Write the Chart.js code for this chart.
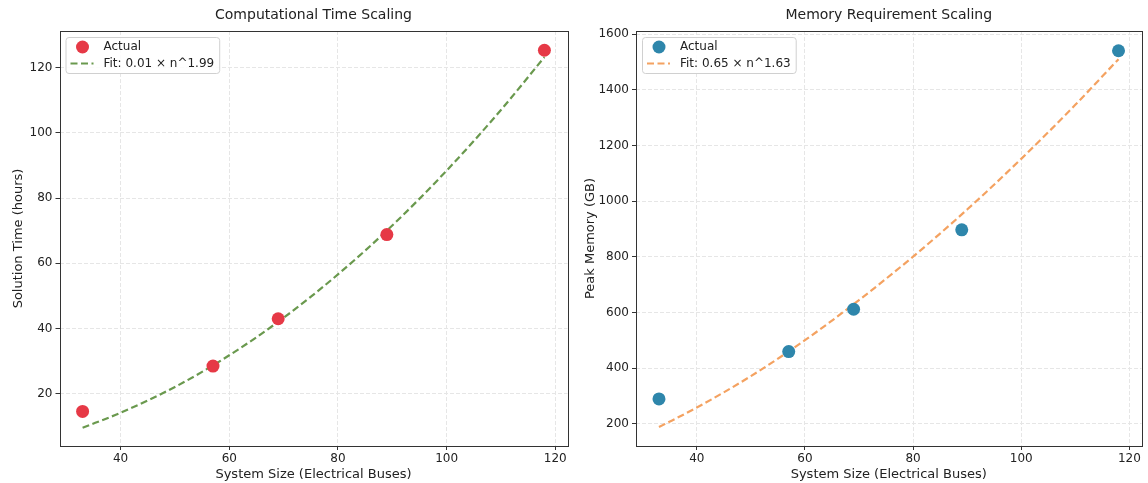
<!DOCTYPE html>
<html>
<head>
<meta charset="utf-8">
<script src="https://cdn.jsdelivr.net/npm/chart.js@4/dist/chart.umd.min.js"></script>
<style>
  html, body { margin: 0; padding: 0; background: #fff; }
  .panel { position: absolute; top: 0; width: 574px; height: 483px; }
  #left { left: 0; }
  #right { left: 574px; }
</style>
</head>
<body>
<div class="panel" id="left"><canvas id="time-chart" width="574" height="483"></canvas></div>
<div class="panel" id="right"><canvas id="mem-chart" width="574" height="483"></canvas></div>
<script>
// measured points
const buses = [33, 57, 69, 89, 118];
const solveHours = [14.6, 28.5, 43.0, 68.8, 125.3];
const memoryGB = [290, 460, 612, 897, 1540];

// fitted curves
const fitBuses = [33, 40, 50, 60, 70, 80, 90, 100, 110, 118];
const fitHours = [9.6, 14.2, 22.1, 31.8, 43.3, 56.6, 71.6, 88.4, 107.0, 123.2];
const fitMemory = [189, 259, 372, 501, 645, 801, 970, 1152, 1346, 1510];

// tick labels
const xTicks = [40, 60, 80, 100, 120];
const hoursTicks = [20, 40, 60, 80, 100, 120];
const memoryTicks = [200, 400, 600, 800, 1000, 1200, 1400, 1600];

const FONT = "'DejaVu Sans', sans-serif";
const TEXT = "#222";

const toXY = (xs, ys) => xs.map((x, i) => ({ x: x, y: ys[i] }));

// spines, title and legend drawn like the matplotlib original
const framePlugin = {
  id: "frame",
  afterDraw(chart, args, opts) {
    const ctx = chart.ctx;
    const a = chart.chartArea;
    ctx.save();
    // box
    ctx.strokeStyle = "#333";
    ctx.lineWidth = 1;
    ctx.strokeRect(Math.round(a.left) + 0.5, Math.round(a.top) + 0.5,
      Math.round(a.right - a.left), Math.round(a.bottom - a.top));
    // title
    ctx.fillStyle = TEXT;
    ctx.font = "14px " + FONT;
    ctx.textAlign = "center";
    ctx.textBaseline = "middle";
    ctx.fillText(opts.title, (a.left + a.right) / 2, 15);

    // legend
    const ds = chart.data.datasets;
    const pts = ds[0], fit = ds[1];
    ctx.font = "12px " + FONT;
    const w = Math.max(ctx.measureText(pts.label).width, ctx.measureText(fit.label).width) + 43;
    const bx = a.left + 6, by = a.top + 6, bh = 36;
    ctx.beginPath();
    ctx.roundRect(bx + 0.5, by + 0.5, w, bh, 3);
    ctx.fillStyle = "rgba(255,255,255,0.85)";
    ctx.fill();
    ctx.strokeStyle = "#d0d0d0";
    ctx.stroke();

    ctx.beginPath();
    ctx.arc(bx + 17, by + 10, 6.5, 0, Math.PI * 2);
    ctx.fillStyle = pts.backgroundColor;
    ctx.fill();

    ctx.beginPath();
    ctx.setLineDash(fit.borderDash);
    ctx.strokeStyle = fit.borderColor;
    ctx.lineWidth = fit.borderWidth;
    ctx.moveTo(bx + 5, by + 26.5);
    ctx.lineTo(bx + 28, by + 26.5);
    ctx.stroke();
    ctx.setLineDash([]);

    ctx.fillStyle = TEXT;
    ctx.textAlign = "left";
    ctx.fillText(pts.label, bx + 38, by + 10);
    ctx.fillText(fit.label, bx + 38, by + 27);
    ctx.restore();
  },
};

const gridOpts = {
  color: "#e6e6e6",
  tickColor: "#333",
  tickLength: 4,
  tickBorderDash: [],
};

const makeChart = (canvasId, cfg) => {
  const ctx = document.getElementById(canvasId).getContext("2d");
  return new Chart(ctx, {
    type: "scatter",
    data: {
      datasets: [
        {
          label: "Actual",
          data: toXY(buses, cfg.values),
          backgroundColor: cfg.pointColor,
          borderWidth: 0,
          pointRadius: 6.5,
          pointHoverRadius: 6.5,
          order: 0,
        },
        {
          label: cfg.fitLabel,
          data: toXY(fitBuses, cfg.fit),
          showLine: true,
          borderColor: cfg.fitColor,
          borderWidth: 2.2,
          borderDash: [7, 3.5],
          pointRadius: 0,
          cubicInterpolationMode: "monotone",
          order: 1,
        },
      ],
    },
    options: {
      responsive: false,
      animation: false,
      layout: { padding: { top: 31, right: cfg.padRight, left: 0, bottom: 0 } },
      plugins: {
        legend: { display: false },
        tooltip: { enabled: false },
        frame: { title: cfg.title },
      },
      scales: {
        x: {
          type: "linear",
          min: 28.75,
          max: 122.25,
          afterBuildTicks: (s) => { s.ticks = xTicks.map((v) => ({ value: v })); },
          afterFit: (s) => { s.height = 37; },
          grid: gridOpts,
          border: { display: false, dash: [4, 2] },
          ticks: { color: TEXT, font: { family: FONT, size: 12 }, padding: 2, maxRotation: 0 },
          title: {
            display: true,
            text: "System Size (Electrical Buses)",
            color: TEXT,
            font: { family: FONT, size: 13 },
            padding: { top: 0, bottom: 1 },
          },
        },
        y: {
          type: "linear",
          min: cfg.yMin,
          max: cfg.yMax,
          afterBuildTicks: (s) => { s.ticks = cfg.yTicks.map((v) => ({ value: v })); },
          afterFit: (s) => { s.width = cfg.yWidth; },
          grid: gridOpts,
          border: { display: false, dash: [4, 2] },
          ticks: {
            color: TEXT,
            font: { family: FONT, size: 12 },
            padding: 3,
            callback: (v) => String(v),
          },
          title: {
            display: true,
            text: cfg.yLabel,
            color: TEXT,
            font: { family: FONT, size: 13 },
            padding: { top: cfg.yTitlePad, bottom: 0 },
          },
        },
      },
    },
    plugins: [framePlugin],
  });
};

makeChart("time-chart", {
  title: "Computational Time Scaling",
  values: solveHours,
  fit: fitHours,
  fitLabel: "Fit: 0.01 × n^1.99",
  pointColor: "#E63946",
  fitColor: "#6A994E",
  yLabel: "Solution Time (hours)",
  yMin: 4.0,
  yMax: 131.2,
  yTicks: hoursTicks,
  yWidth: 59.5,
  yTitlePad: 11,
  padRight: 4,
});

makeChart("mem-chart", {
  title: "Memory Requirement Scaling",
  values: memoryGB,
  fit: fitMemory,
  fitLabel: "Fit: 0.65 × n^1.63",
  pointColor: "#2E86AB",
  fitColor: "#F4A261",
  yLabel: "Peak Memory (GB)",
  yMin: 121,
  yMax: 1611,
  yTicks: memoryTicks,
  yWidth: 62,
  yTitlePad: 9,
  padRight: 2,
});
</script>
</body>
</html>
